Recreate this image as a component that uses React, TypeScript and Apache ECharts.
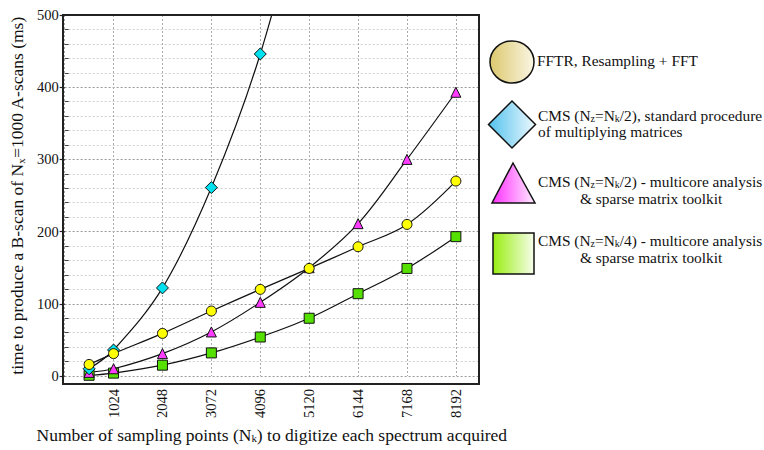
import React, { useEffect, useRef } from "react";
import * as echarts from "echarts";

const xValues = [512, 1024, 2048, 3072, 4096, 5120, 6144, 7168, 8192];
const fftr = [16, 31, 59, 90, 120, 149, 179, 210, 270];
const cmsStandard = [10, 36, 122, 261, 446, 700];
const cmsNk2 = [5, 10, 31, 61, 102, 150, 211, 300, 393];
const cmsNk4 = [1, 4, 15, 32, 54, 80, 114, 149, 193];
const xTicks = [1024, 2048, 3072, 4096, 5120, 6144, 7168, 8192];

const FONT = "Liberation Serif";

const pairs = (vals: number[]) => vals.map((v, i) => [xValues[i], v]);

export default function App() {
  const ref = useRef<HTMLDivElement>(null);
  useEffect(() => {
    document.body.style.margin = "0";
    document.body.style.overflow = "hidden";
    if (!ref.current) return;
    const chart = echarts.init(ref.current, null, { renderer: "svg" });
    const subRich = {
      sub: { fontSize: 11, fontFamily: FONT, color: "#111", verticalAlign: "bottom", lineHeight: 11 },
      n: { fontSize: 17.5, fontFamily: FONT, color: "#111", verticalAlign: "bottom", lineHeight: 18 },
    };
    const legRich = {
      sub: { fontSize: 10, fontFamily: FONT, color: "#111", verticalAlign: "bottom", lineHeight: 10 },
      n: { fontSize: 15.4, fontFamily: FONT, color: "#111", verticalAlign: "bottom", lineHeight: 16 },
    };
    const grad = (a: string, b: string) => ({
      type: "linear", x: 0, y: 0, x2: 1, y2: 0,
      colorStops: [{ offset: 0, color: a }, { offset: 1, color: b }],
    });
    const legText = (x: number, y: number, text: string) => ({
      type: "text", left: x, top: y,
      style: { text, rich: legRich, fill: "#111", fontFamily: FONT, fontSize: 15.4 },
    });
    const mkSeries = (name: string, vals: number[], symbol: string, size: number, color: string, clip = false) => ({
      name, type: "line", data: pairs(vals).map((p) =>
        p[1] > 500 ? { value: p, symbol: "none" } : { value: p }),
      smooth: 0.35, symbol, symbolSize: size, showSymbol: true, clip,
      lineStyle: { color: "#111", width: 1.2 },
      itemStyle: { color, borderColor: "#111", borderWidth: 1 },
    });
    chart.setOption({
      animation: false,
      backgroundColor: "#fff",
      textStyle: { fontFamily: FONT },
      grid: { left: 63, right: 285, top: 15, bottom: 74 },
      xAxis: {
        type: "value", min: 0, max: 8676, interval: 1024,
        axisLine: { show: false }, axisTick: { show: false },
        axisLabel: {
          rotate: 90, margin: 13, fontSize: 14.5, fontFamily: FONT, color: "#111",
          formatter: (v: number) => (xTicks.includes(v) ? String(v) : ""),
        },
        splitLine: { show: true, lineStyle: { color: "#aaa", type: [2, 2], width: 1 } },
        name: "{n|Number of sampling points (N}{sub|k}{n|) to digitize each spectrum acquired}",
        nameLocation: "middle", nameGap: 40,
        nameTextStyle: { rich: subRich, fontFamily: FONT, fontSize: 17.5 },
      },
      yAxis: [
        {
          type: "value", min: 0, max: 500, interval: 100,
          axisLine: { show: false },
          axisTick: { show: true, inside: false, length: 5, lineStyle: { color: "#222", width: 1.2 } },
          axisLabel: { margin: 6, fontSize: 14.5, fontFamily: FONT, color: "#111" },
          splitLine: { show: true, lineStyle: { color: "#999", type: [2, 2], width: 1 } },
          minorSplitLine: { show: true, lineStyle: { color: "#d0d0d0", type: [2, 2], width: 1 } },
          minorTick: { show: false, splitNumber: 5 },
          name: "{n|time to produce a B-scan of N}{sub|x}{n|=1000 A-scans (ms)}",
          nameLocation: "middle", nameGap: 35, nameRotate: 90,
          nameTextStyle: { rich: subRich, fontFamily: FONT, fontSize: 17.5 },
        },
        {
          type: "value", min: 0, max: 500, interval: 100, position: "left",
          axisLine: { show: false },
          axisTick: { show: false, inside: true },
          minorTick: { show: true, splitNumber: 5, length: 4, lineStyle: { color: "#444", width: 1 } },
          axisLabel: { show: false },
          splitLine: { show: false },
        },
      ],
      series: [
        mkSeries("cms4", cmsNk4, "rect", 10, "#55e000"),
        mkSeries("cms2", cmsNk2, "triangle", 10, "#ff3cff"),
        mkSeries("cmsStd", cmsStandard, "diamond", 12, "#00e0ee", true),
        mkSeries("fftr", fftr, "circle", 10, "#ffff00"),
      ],
      graphic: [
        { type: "rect", z: 100, shape: { x: 63, y: 15, width: 416, height: 369 },
          style: { fill: "none", stroke: "#222", lineWidth: 2 } },
        { type: "ellipse", shape: { cx: 512, cy: 62, rx: 22, ry: 21 },
          style: { fill: grad("#dcc86e", "#faf6e4"), stroke: "#111", lineWidth: 1.5 } },
        { type: "polygon", shape: { points: [[512, 101], [535.5, 124.5], [512, 148], [488.5, 124.5]] },
          style: { fill: grad("#52c2ee", "#eef8fd"), stroke: "#111", lineWidth: 1.5 } },
        { type: "polygon", shape: { points: [[513, 163], [535, 203], [492, 203]] },
          style: { fill: grad("#ff30ff", "#ffecff"), stroke: "#111", lineWidth: 1.5 } },
        { type: "rect", shape: { x: 493, y: 233, width: 41, height: 41 },
          style: { fill: grad("#99ee11", "#f6fdea"), stroke: "#111", lineWidth: 1.5 } },
        legText(537, 53, "{n|FFTR, Resampling + FFT}"),
        legText(538, 108, "{n|CMS (N}{sub|z}{n|=N}{sub|k}{n|/2), standard procedure}"),
        legText(538, 124, "{n|of multiplying matrices}"),
        legText(538, 174, "{n|CMS (N}{sub|z}{n|=N}{sub|k}{n|/2) - multicore analysis}"),
        legText(580, 191, "{n|& sparse matrix toolkit}"),
        legText(538, 233, "{n|CMS (N}{sub|z}{n|=N}{sub|k}{n|/4) - multicore analysis}"),
        legText(580, 250, "{n|& sparse matrix toolkit}"),
      ],
    } as any);
    return () => chart.dispose();
  }, []);
  return <div ref={ref} style={{ width: 764, height: 450 }} />;
}
